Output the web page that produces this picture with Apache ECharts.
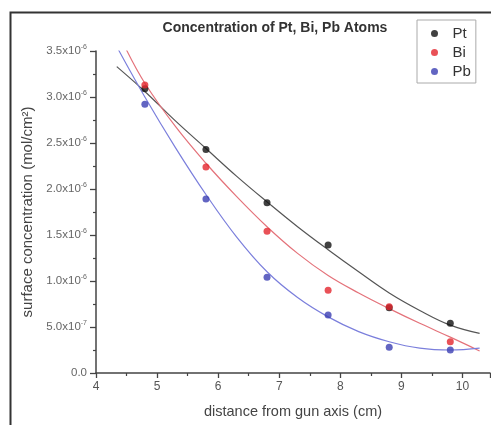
<!DOCTYPE html>
<html>
<head>
<meta charset="utf-8">
<script src="https://cdn.jsdelivr.net/npm/echarts@6/dist/echarts.min.js"></script>
<style>
html,body{margin:0;padding:0;background:#fff;}
#c{width:491px;height:425px;}
</style>
</head>
<body>
<div id="c"></div>
<script>
// values in units of 1e-6 mol/cm^2
const distances = [4.8, 5.8, 6.8, 7.8, 8.8, 9.8];
const ptValues = [3.09, 2.43, 1.85, 1.39, 0.71, 0.54];
const biValues = [3.13, 2.24, 1.54, 0.90, 0.72, 0.34];
const pbValues = [2.92, 1.89, 1.04, 0.63, 0.28, 0.25];

// fitted curves
const ptFitX = [4.34, 4.8, 5.3, 5.8, 6.3, 6.8, 7.3, 7.8, 8.3, 8.8, 9.3, 9.8, 10.28];
const ptFitY = [3.33, 3.06, 2.74, 2.44, 2.14, 1.86, 1.59, 1.34, 1.10, 0.87, 0.68, 0.52, 0.43];
const biFitX = [4.5, 4.8, 5.3, 5.8, 6.3, 6.8, 7.3, 7.8, 8.3, 8.8, 9.3, 9.8, 10.28];
const biFitY = [3.51, 3.15, 2.68, 2.28, 1.92, 1.59, 1.30, 1.06, 0.87, 0.70, 0.54, 0.39, 0.24];
const pbFitX = [4.37, 4.8, 5.3, 5.8, 6.3, 6.8, 7.3, 7.8, 8.3, 8.8, 9.3, 9.8, 10.28];
const pbFitY = [3.51, 3.00, 2.45, 1.94, 1.48, 1.10, 0.82, 0.61, 0.45, 0.34, 0.27, 0.25, 0.27];

const xTickLabels = ['4', '5', '6', '7', '8', '9', '10'];
const seriesNames = ['Pt', 'Bi', 'Pb'];
const pointColors = ['#111111', '#e3262d', '#3b3fb3'];
const lineColors = ['#555555', '#e4727a', '#7b7fdc'];

function pairs(xs, ys) { return xs.map((x, i) => [x, ys[i]]); }

function yFmt(v) {
  if (Math.abs(v) < 1e-9) return '{m|0.0}';
  if (v < 1 - 1e-9) return '{m|' + (v * 10).toFixed(1) + 'x10}{e|-7}';
  return '{m|' + v.toFixed(1) + 'x10}{e|-6}';
}

const chart = echarts.init(document.getElementById('c'), null, {renderer: 'canvas'});
const pointSets = [ptValues, biValues, pbValues];
const fitSets = [[ptFitX, ptFitY], [biFitX, biFitY], [pbFitX, pbFitY]];
const series = [];
fitSets.forEach((f, i) => {
  series.push({
    name: seriesNames[i] + ' fit', type: 'line', data: pairs(f[0], f[1]),
    smooth: 0.4, showSymbol: false, symbol: 'none',
    lineStyle: {color: lineColors[i], width: 1.2}, z: 2, silent: true
  });
});
pointSets.forEach((p, i) => {
  series.push({
    name: seriesNames[i], type: 'scatter', data: pairs(distances, p),
    symbol: 'circle', symbolSize: 7,
    itemStyle: {color: pointColors[i]}, z: 3
  });
});

chart.setOption({
  animation: false,
  backgroundColor: '#ffffff',
  title: {
    text: 'Concentration of Pt, Bi, Pb Atoms',
    left: 270, top: 16, textAlign: 'center',
    textStyle: {fontFamily: 'Liberation Sans', fontSize: 14, fontWeight: 'bold', color: '#333'}
  },
  legend: {
    data: seriesNames, orient: 'vertical', left: 417, top: 20,
    padding: [6, 5, 4, 14], itemGap: 4, itemWidth: 26, itemHeight: 7,
    icon: 'circle', borderColor: '#aaaaaa', borderWidth: 1,
    textStyle: {fontFamily: 'Liberation Sans', fontSize: 15, color: '#333', lineHeight: 15}
  },
  grid: {left: 96, right: 1, top: 51, bottom: 52},
  xAxis: {
    type: 'value', min: 4, max: 10.45, interval: 1,
    name: 'distance from gun axis (cm)', nameLocation: 'middle', nameGap: 31,
    nameTextStyle: {fontFamily: 'Liberation Sans', fontSize: 14.5, color: '#444'},
    axisLine: {lineStyle: {color: '#444', width: 1.5}},
    axisTick: {inside: false, length: 5, lineStyle: {color: '#444', width: 1.3}},
    minorTick: {show: true, splitNumber: 2, length: 3, lineStyle: {color: '#444', width: 1.2}},
    splitLine: {show: false},
    axisLabel: {showMaxLabel: false, margin: 8, fontFamily: 'Liberation Sans', fontSize: 12, color: '#555',
      formatter: v => { const i = Math.round(v) - 4; return (Math.abs(v - Math.round(v)) < 1e-6 && xTickLabels[i]) ? xTickLabels[i] : ''; }}
  },
  yAxis: {
    type: 'value', min: 0, max: 3.5, interval: 0.5,
    name: 'surface concentration (mol/cm\u00b2)', nameLocation: 'middle', nameGap: 58, nameRotate: 90,
    nameTextStyle: {fontFamily: 'Liberation Sans', fontSize: 15, color: '#444'},
    axisLine: {show: true, lineStyle: {color: '#444', width: 1.5}},
    axisTick: {inside: false, length: 6, lineStyle: {color: '#444', width: 1.3}},
    minorTick: {show: true, splitNumber: 2, length: 3, lineStyle: {color: '#444', width: 1.2}},
    splitLine: {show: false},
    axisLabel: {margin: 9, formatter: yFmt,
      rich: {
        m: {fontFamily: 'Liberation Sans', fontSize: 11.5, color: '#666'},
        e: {fontFamily: 'Liberation Sans', fontSize: 7, color: '#666', padding: [0, 0, 8, 0]}
      }}
  },
  graphic: [{
    type: 'rect', left: 8, top: 10, z: 100, silent: true,
    shape: {width: 500, height: 430},
    style: {fill: 'none', stroke: '#333', lineWidth: 2}
  }],
  series: series
});
</script>
</body>
</html>
